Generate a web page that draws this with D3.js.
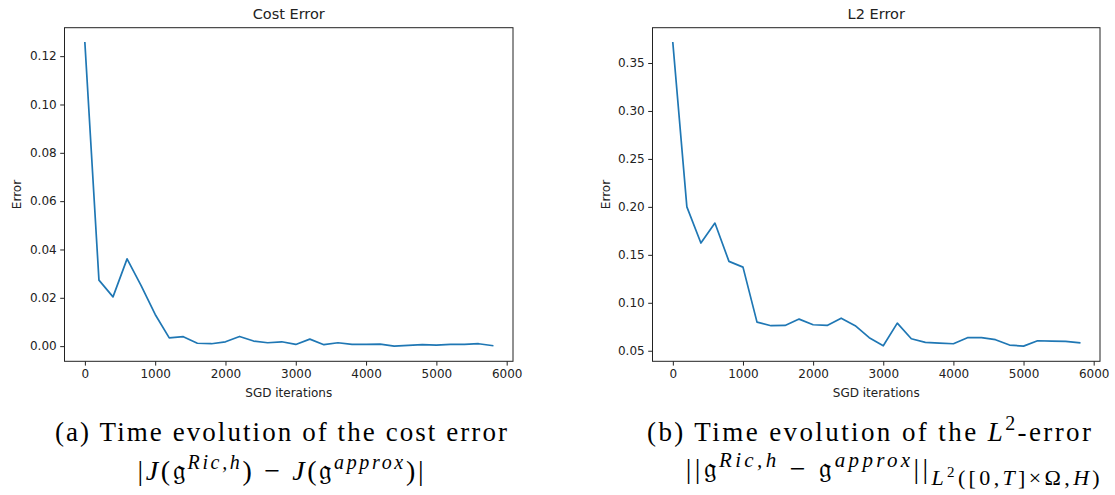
<!DOCTYPE html>
<html><head><meta charset="utf-8">
<script src="https://cdn.jsdelivr.net/npm/d3@7"></script>
<style>
html,body{margin:0;padding:0;background:#fff;}
svg text{font-family:"DejaVu Sans",sans-serif;}
.cap{font-family:"Liberation Serif","DejaVu Serif",serif;fill:#000;}
</style></head>
<body>
<svg id="chart" width="1115" height="495"></svg>
<script>
// ---- data ----
const iterations = [0,200,400,600,800,1000,1200,1400,1600,1800,2000,2200,2400,2600,2800,3000,3200,3400,3600,3800,4000,4200,4400,4600,4800,5000,5200,5400,5600,5800];
const costError = [0.1255,0.0273,0.0204,0.0361,0.0250,0.0131,0.0034,0.0039,0.0012,0.0010,0.0018,0.0040,0.0021,0.0014,0.0018,0.0007,0.0029,0.0006,0.0014,0.0007,0.0007,0.0008,0.0000,0.0003,0.0006,0.0004,0.0007,0.0007,0.0010,0.0002];
const l2Error = [0.371,0.200,0.1623,0.1831,0.1432,0.1372,0.0798,0.0761,0.0764,0.0830,0.0771,0.0764,0.0840,0.0761,0.0636,0.0552,0.0788,0.0625,0.0587,0.0580,0.0573,0.0636,0.0636,0.0615,0.0559,0.0548,0.0604,0.0601,0.0597,0.0583];
const xTicks = [0,1000,2000,3000,4000,5000,6000];
const costTicks = [0.00,0.02,0.04,0.06,0.08,0.10,0.12];
const l2Ticks = [0.05,0.10,0.15,0.20,0.25,0.30,0.35];
const titles = ["Cost Error","L2 Error"];
const xLabel = "SGD iterations";
const yLabel = "Error";

const svg = d3.select("#chart");

function panel(opts){
  const {left,right,top,bottom,values,yTicks,title,ylabX} = opts;
  const xmin = d3.min(iterations), xmax = d3.max(iterations);
  const xm = (xmax-xmin)*0.05;
  const ymin = d3.min(values), ymax = d3.max(values);
  const ym = (ymax-ymin)*0.05;
  const x = d3.scaleLinear().domain([xmin-xm, xmax+xm]).range([left,right]);
  const y = d3.scaleLinear().domain([ymin-ym, ymax+ym]).range([bottom,top]);
  const g = svg.append("g");

  const xa = g.append("g").attr("transform",`translate(0,${bottom})`)
    .call(d3.axisBottom(x).tickValues(xTicks).tickFormat(d3.format("d")).tickSize(4.3).tickSizeOuter(0).tickPadding(3.5));
  const ya = g.append("g").attr("transform",`translate(${left},0)`)
    .call(d3.axisLeft(y).tickValues(yTicks).tickFormat(d3.format(".2f")).tickSize(4.3).tickSizeOuter(0).tickPadding(3.5));
  [xa,ya].forEach(a=>{
    a.select(".domain").remove();
    a.selectAll("line").attr("stroke","#222").attr("stroke-width",1);
    a.selectAll("text").attr("font-size",12).attr("fill","#222").attr("font-family","DejaVu Sans");
  });

  g.append("path").datum(iterations.map((it,i)=>[it,values[i]]))
    .attr("fill","none").attr("stroke","#1f77b4").attr("stroke-width",1.7)
    .attr("stroke-linejoin","round").attr("stroke-linecap","square")
    .attr("d",d3.line().x(d=>x(d[0])).y(d=>y(d[1])));

  g.append("rect").attr("x",left).attr("y",top).attr("width",right-left).attr("height",bottom-top)
    .attr("fill","none").attr("stroke","#222").attr("stroke-width",1);

  g.append("text").attr("x",(left+right)/2).attr("y",18.5).attr("text-anchor","middle")
    .attr("font-size",14.5).attr("fill","#222").text(title);
  g.append("text").attr("x",(left+right)/2).attr("y",397).attr("text-anchor","middle")
    .attr("font-size",12).attr("fill","#222").text(xLabel);
  g.append("text").attr("transform",`translate(${ylabX},${(top+bottom)/2}) rotate(-90)`)
    .attr("text-anchor","middle").attr("font-size",12).attr("fill","#222").text(yLabel);
}

panel({left:64.5,right:513,top:27.7,bottom:361.3,values:costError,yTicks:costTicks,title:titles[0],ylabX:21});
panel({left:652.5,right:1100,top:27.7,bottom:361.3,values:l2Error,yTicks:l2Ticks,title:titles[1],ylabX:609.5});

// ---- captions ----
function cap(cx, y, width, parts, fs){
  const t = svg.append("text").attr("class","cap").attr("y",y).attr("font-size",fs);
  parts.forEach(p=>{
    const s = t.append("tspan").text(p.t);
    if(p.i) s.attr("font-style","italic");
    if(p.fs) s.attr("font-size",p.fs);
    if(p.dy) s.attr("dy",p.dy);
    if(p.dx) s.attr("dx",p.dx);
  });
  const natural = t.node().getComputedTextLength();
  if(natural < width) t.attr("textLength",width).attr("lengthAdjust","spacing");
  const w = Math.max(natural, width);
  t.attr("x", cx - w/2);
  return t;
}
const FS = 27, MS = 28, SS = 20;
cap(281, 441, 452, [{t:"(a) Time evolution of the cost error"}], FS);
cap(280.5, 480, 286, [
  {t:"|"},{t:"J",i:1},{t:"("},{t:"𝔤"},
  {t:"Ric,h",i:1,fs:SS,dy:-11},
  {t:")",dy:11},{t:" − "},{t:"J",i:1},{t:"("},{t:"𝔤"},
  {t:"approx",i:1,fs:SS,dy:-11},
  {t:")|",dy:11}
], MS);
cap(869, 441, 444, [{t:"(b) Time evolution of the "},{t:"L",i:1},{t:"2",fs:SS,dy:-11},{t:"-error",dy:11}], FS);
cap(892.7, 478, 414, [
  {t:"||"},{t:"𝔤"},{t:"Ric,h",i:1,fs:21,dy:-11},
  {t:" − ",dy:11},{t:"𝔤"},{t:"approx",i:1,fs:21,dy:-11},
  {t:"||",dy:11},{t:"L",i:1,fs:22,dy:7},{t:"2",fs:15,dy:-8},{t:"([0,",fs:22,dy:8},{t:"T",i:1,fs:22},{t:"]×Ω,",fs:22},{t:"H",i:1,fs:22},{t:")",fs:22}
], MS);
</script>
</body></html>
